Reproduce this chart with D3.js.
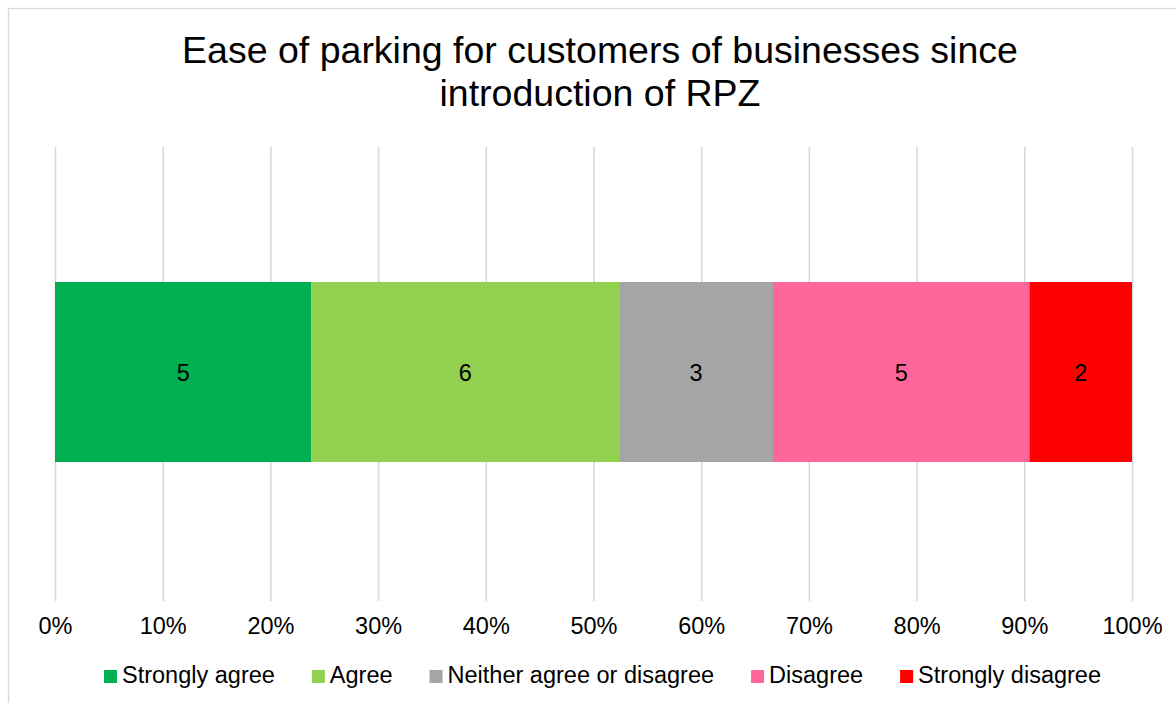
<!DOCTYPE html>
<html>
<head>
<meta charset="utf-8">
<script src="https://cdn.jsdelivr.net/npm/d3@7/dist/d3.min.js"></script>
<style>
  html, body { margin: 0; padding: 0; background: #fff; }
  svg { display: block; font-family: "Liberation Sans", Arial, sans-serif; }
</style>
</head>
<body>
<svg id="chart" width="1176" height="703"></svg>
<script>
const titleLines = ["Ease of parking for customers of businesses since", "introduction of RPZ"];
const categories = ["Strongly agree", "Agree", "Neither agree or disagree", "Disagree", "Strongly disagree"];
const values = [5, 6, 3, 5, 2];
const colors = ["#00B050", "#92D050", "#A5A5A5", "#FF6699", "#FF0000"];
const tickValues = [0, 0.1, 0.2, 0.3, 0.4, 0.5, 0.6, 0.7, 0.8, 0.9, 1.0];

const svg = d3.select("#chart");

// chart area border
svg.append("rect")
  .attr("x", 8.5).attr("y", 8.5).attr("width", 1300).attr("height", 900)
  .attr("fill", "#fff").attr("stroke", "#d9d9d9").attr("stroke-width", 1.3);

// title
const title = svg.append("text").attr("text-anchor", "middle")
  .attr("font-size", "37.5px").attr("fill", "#000");
titleLines.forEach((t, i) => {
  title.append("tspan").attr("x", 600).attr("y", 63 + i * 43).text(t);
});

const x = d3.scaleLinear().domain([0, 1]).range([55, 1132]);
const plotTop = 147, plotBottom = 601;

// gridlines via axis
const grid = svg.append("g").attr("transform", `translate(0,${plotTop})`)
  .call(d3.axisBottom(x).tickValues(tickValues).tickSize(plotBottom - plotTop).tickFormat(""));
grid.select(".domain").remove();
grid.selectAll(".tick line").attr("stroke", "#d9d9d9").attr("stroke-width", 1.6);

// stacked percentages
const total = d3.sum(values);
let cum = 0;
const segs = values.map((v, i) => {
  const s = { cat: categories[i], v, x0: cum / total, x1: (cum + v) / total, color: colors[i] };
  cum += v;
  return s;
});

const barTop = 282, barBottom = 462;
const yb = d3.scaleLinear().domain([0, 1]).range([barTop, barBottom]);

svg.append("g").selectAll("rect").data(segs).join("rect")
  .attr("x", d => x(d.x0)).attr("width", d => x(d.x1) - x(d.x0))
  .attr("y", yb(0)).attr("height", yb(1) - yb(0))
  .attr("fill", d => d.color);

svg.append("g").selectAll("text").data(segs).join("text")
  .attr("x", d => (x(d.x0) + x(d.x1)) / 2).attr("y", (yb(0) + yb(1)) / 2 + 8.5)
  .attr("text-anchor", "middle").attr("font-size", "23.5px").attr("fill", "#000")
  .text(d => d.v);

// x axis labels
const ax = svg.append("g").attr("transform", `translate(0,${plotBottom})`)
  .call(d3.axisBottom(x).tickValues(tickValues).tickSize(0).tickPadding(0).tickFormat(d3.format(".0%")));
ax.select(".domain").remove();
ax.selectAll(".tick text").attr("font-size", "23.5px").attr("fill", "#000")
  .attr("font-family", "'Liberation Sans', Arial, sans-serif")
  .attr("dy", null).attr("y", 33);

// legend
const leg = svg.append("g");
const items = leg.selectAll("g").data(categories).join("g");
items.append("rect").attr("width", 13).attr("height", 13).attr("y", 670)
  .attr("fill", (d, i) => colors[i]);
items.append("text").attr("x", 18).attr("y", 683).attr("font-size", "23.5px").attr("fill", "#000").text(d => d);
let widths = [];
items.each(function () { widths.push(this.getBBox().width); });
const gap = 37;
let lx = 104;
items.attr("transform", (d, i) => { const t = `translate(${lx},0)`; lx += widths[i] + gap; return t; });
</script>
</body>
</html>
